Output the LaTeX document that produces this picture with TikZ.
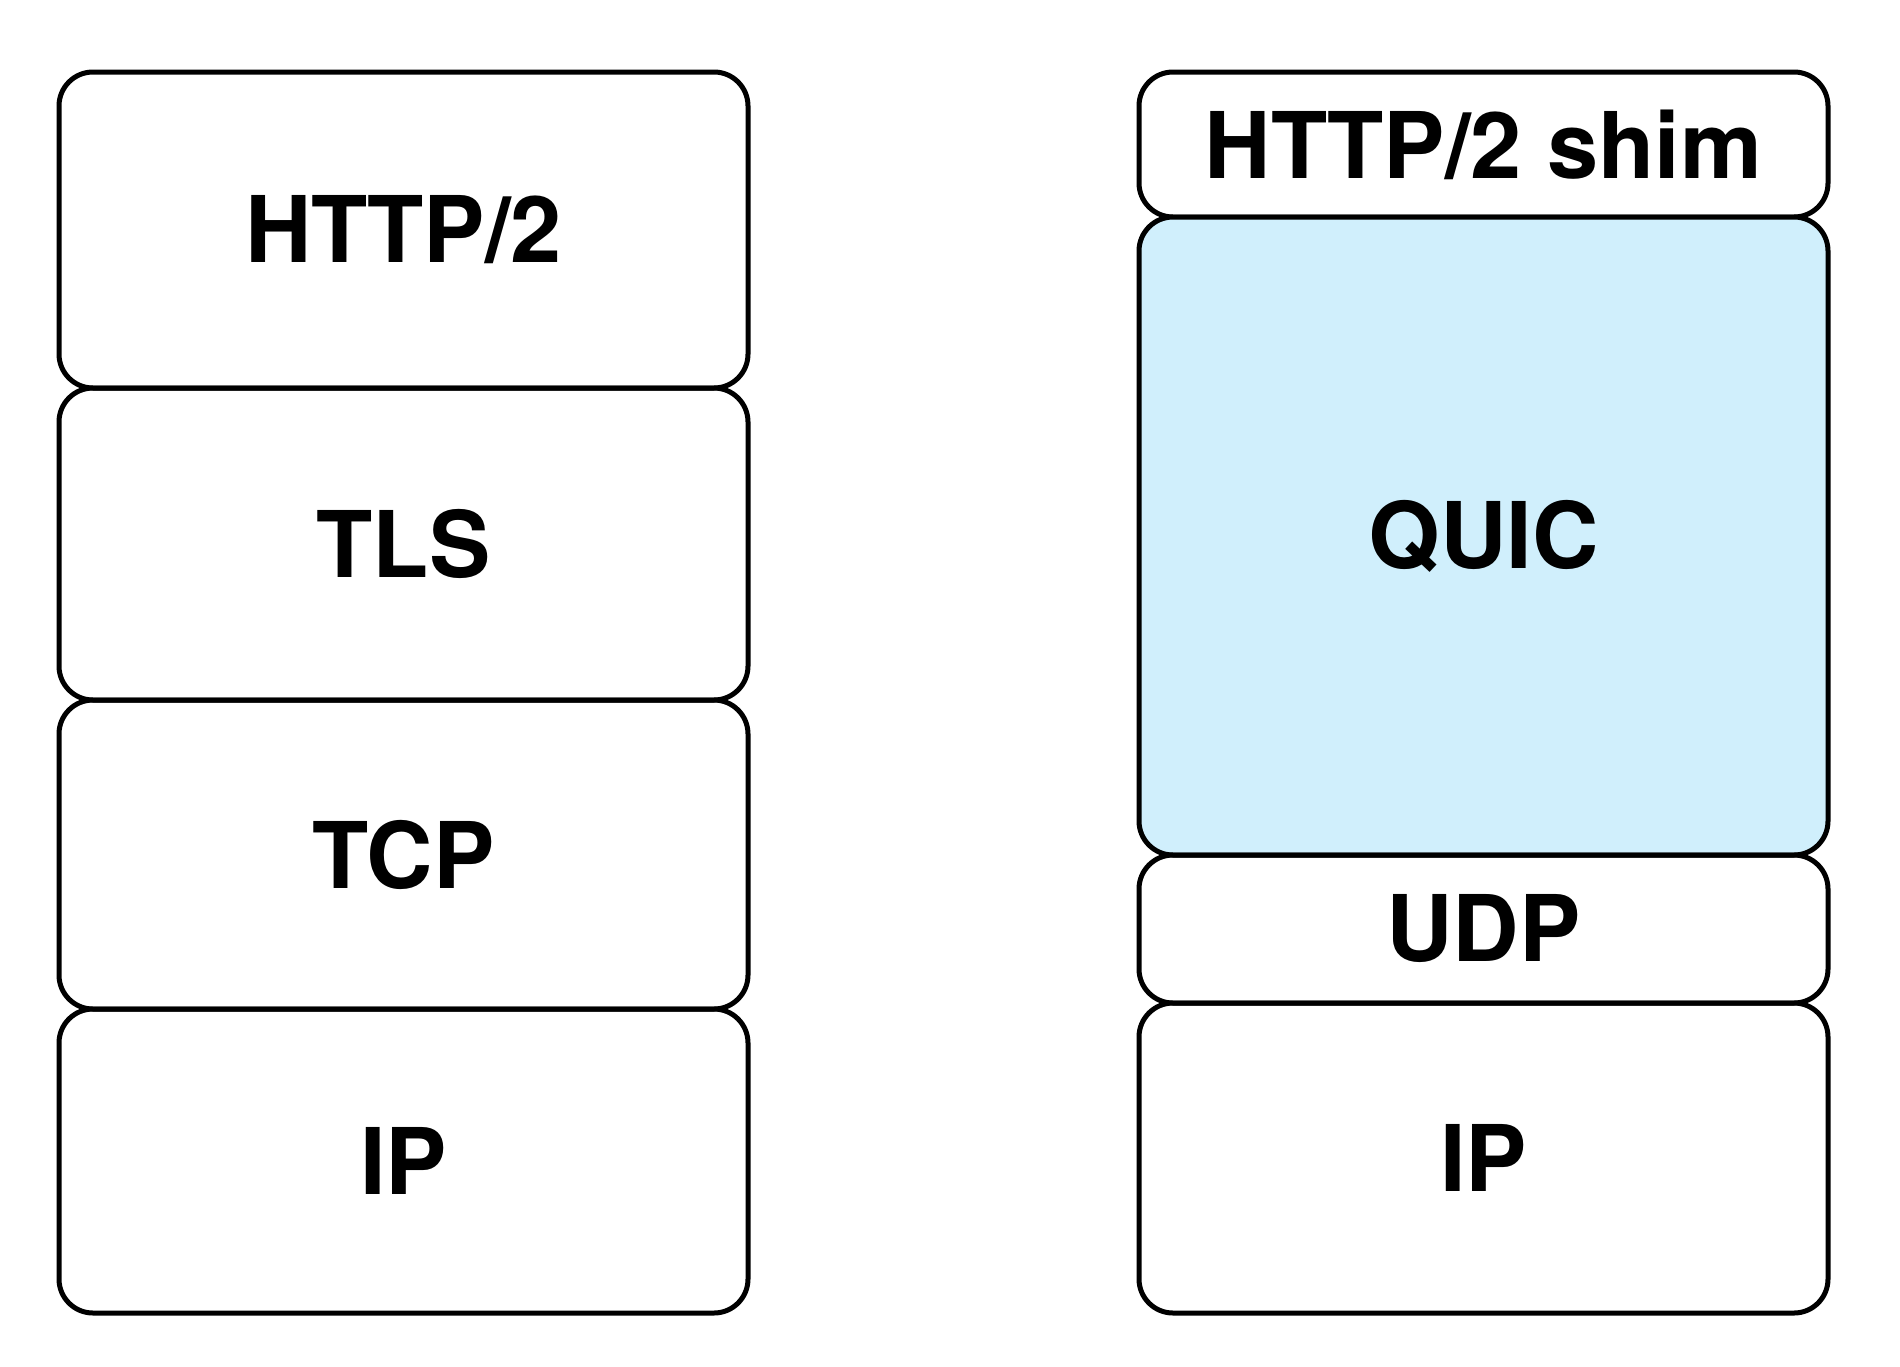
\documentclass[tikz,border=0pt]{standalone}
\usepackage{fontspec}
\setmainfont{TeX Gyre Heros}
\definecolor{quicblue}{RGB}{208,239,252}
\begin{document}
\begin{tikzpicture}[x=1pt,y=-1pt]
\tikzstyle{every node}=[draw,rectangle,rounded corners=34pt,line width=5pt,
minimum width=689pt,inner sep=0pt,font=\fontsize{92}{100}\selectfont\bfseries]
\useasboundingbox (0,0) rectangle (1900,1366);

% TCP stack
\draw (403.5,230)  node (http) [minimum height=316pt] {HTTP/2};
\draw (403.5,544)  node (tls) [minimum height=312pt] {TLS};
\draw (403.5,854.5)  node (tcp) [minimum height=309pt] {TCP};
\draw (403.5,1161)  node (ipl) [minimum height=304pt] {IP};

% QUIC stack
\draw (1483.5,144.5)  node (shim) [minimum height=145pt] {HTTP/2 shim};
\draw (1483.5,536)  node (quic) [minimum height=638pt,fill=quicblue] {QUIC};
\draw (1483.5,929)  node (udp) [minimum height=148pt] {UDP};
\draw (1483.5,1158)  node (ipr) [minimum height=310pt] {IP};
\end{tikzpicture}
\end{document}
